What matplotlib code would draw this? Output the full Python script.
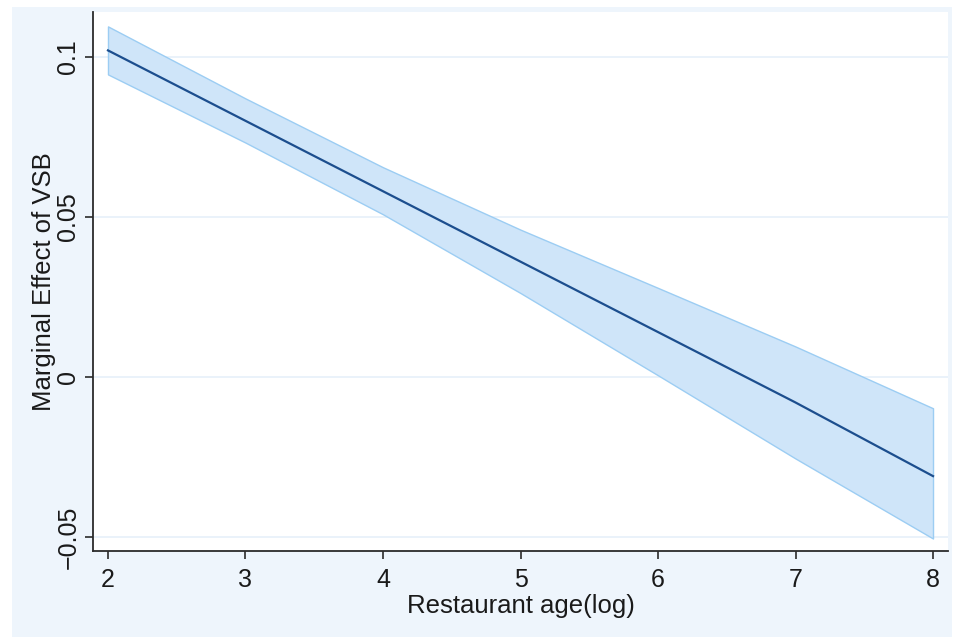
import matplotlib

matplotlib.use("Agg")

import matplotlib.pyplot as plt
from matplotlib.patches import Rectangle

# Marginal effect of VSB over restaurant age (log), with 95% CI band
age_log = [2, 3, 4, 5, 6, 7, 8]
effect = [0.102, 0.080, 0.058, 0.036, 0.014, -0.008, -0.031]
ci_upper = [0.1095, 0.0870, 0.0655, 0.0460, 0.0278, 0.0095, -0.0098]
ci_lower = [0.0945, 0.0732, 0.0508, 0.0262, 0.0005, -0.0255, -0.0505]

x_ticks = [2, 3, 4, 5, 6, 7, 8]
y_ticks = [-0.05, 0, 0.05, 0.1]
y_tick_labels = ["\u22120.05", "0", "0.05", "0.1"]

plt.rcParams["font.family"] = ["Liberation Sans", "DejaVu Sans"]

region_bg = "#EEF5FC"
grid_color = "#E6F0FA"
band_fill = "#CFE5F9"
band_edge = "#9CCDF3"
line_color = "#1C4E8E"
text_color = "#1A1A1A"

fig = plt.figure(figsize=(9.56, 6.37), dpi=100)
fig.patch.set_facecolor("white")
fig.patches.append(Rectangle(
    (12 / 956, 0), 940 / 956, 630 / 637,
    transform=fig.transFigure, facecolor=region_bg, edgecolor="none", zorder=-10,
))

ax = fig.add_axes([93 / 956, 86 / 637, 855 / 956, 539 / 637])
ax.set_facecolor("white")

ax.fill_between(age_log, ci_lower, ci_upper, facecolor=band_fill,
                edgecolor=band_edge, linewidth=1.0, zorder=2)
ax.plot(age_log, effect, color=line_color, linewidth=1.6, zorder=3)

ax.set_xlim(1.891, 8.109)
ax.set_ylim(-0.0544, 0.114)
ax.set_xticks(x_ticks)
ax.set_yticks(y_ticks)
ax.set_yticklabels(y_tick_labels, rotation=90, va="center")

ax.grid(axis="y", color=grid_color, linewidth=1.2, zorder=0)
ax.set_axisbelow(True)

for side in ("top", "right"):
    ax.spines[side].set_visible(False)
for side in ("left", "bottom"):
    ax.spines[side].set_color("#2B2B2B")
    ax.spines[side].set_linewidth(1.3)

ax.tick_params(axis="both", direction="out", length=6, width=1.2,
               colors="#2B2B2B", labelsize=18, labelcolor=text_color)
ax.tick_params(axis="x", pad=6)
ax.tick_params(axis="y", pad=3)

ax.set_xlabel("Restaurant age(log)", fontsize=18.5, color=text_color, labelpad=2)
ax.set_ylabel("Marginal Effect of VSB", fontsize=18.5, color=text_color, labelpad=0)

fig.savefig("out.png", dpi=100, facecolor=fig.get_facecolor())
plt.close(fig)
